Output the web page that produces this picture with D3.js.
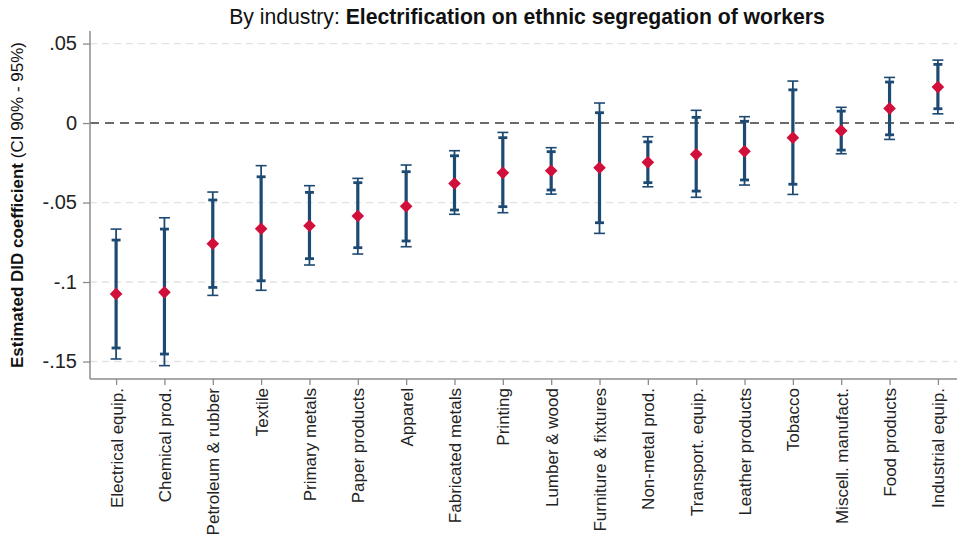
<!DOCTYPE html>
<html>
<head>
<meta charset="utf-8">
<script src="https://cdn.jsdelivr.net/npm/d3@7"></script>
<style>
  html, body { margin: 0; padding: 0; background: #fff; }
  svg { display: block; font-family: "Liberation Sans", Arial, sans-serif; }
</style>
</head>
<body>
<svg id="chart" width="957" height="538"></svg>
<script>
// Industries, ordered by estimated coefficient
const industries = [
  "Electrical equip.", "Chemical prod.", "Petroleum & rubber", "Textile",
  "Primary metals", "Paper products", "Apparel", "Fabricated metals",
  "Printing", "Lumber & wood", "Furniture & fixtures", "Non-metal prod.",
  "Transport. equip.", "Leather products", "Tobacco", "Miscell. manufact.",
  "Food products", "Industrial equip."
];
// Point estimates
const coef = [
  -0.1075, -0.1065, -0.0759, -0.0665, -0.0646, -0.0585, -0.0524, -0.0380,
  -0.0313, -0.0300, -0.0281, -0.0247, -0.0197, -0.0178, -0.0092, -0.0048,
  0.0092, 0.0226
];
// 90% confidence interval
const lo90 = [
  -0.1415, -0.1453, -0.1034, -0.0992, -0.0853, -0.0784, -0.0742, -0.0547,
  -0.0526, -0.0421, -0.0627, -0.0375, -0.0428, -0.0358, -0.0385, -0.0170,
  -0.0074, 0.0090
];
const hi90 = [
  -0.0736, -0.0667, -0.0484, -0.0338, -0.0436, -0.0375, -0.0306, -0.0206,
  -0.0092, -0.0180, 0.0065, -0.0118, 0.0036, 0.0011, 0.0209, 0.0075,
  0.0258, 0.0369
];
// 95% confidence interval
const lo95 = [
  -0.1484, -0.1526, -0.1084, -0.1052, -0.0893, -0.0824, -0.0778, -0.0574,
  -0.0564, -0.0447, -0.0694, -0.0401, -0.0467, -0.0390, -0.0449, -0.0193,
  -0.0103, 0.0058
];
const hi95 = [
  -0.0667, -0.0596, -0.0434, -0.0268, -0.0394, -0.0348, -0.0264, -0.0174,
  -0.0059, -0.0155, 0.0126, -0.0086, 0.0080, 0.0040, 0.0264, 0.0099,
  0.0287, 0.0396
];
const yTicks = [0.05, 0, -0.05, -0.1, -0.15];
const yTickLabels = [".05", "0", "-.05", "-.1", "-.15"];

const rows = industries.map((name, i) => ({
  name, b: coef[i], lo90: lo90[i], hi90: hi90[i], lo95: lo95[i], hi95: hi95[i]
}));

const plot = { left: 90, right: 957, top: 31, bottom: 379 };
const navy = "#1d4a72";
const red = "#d0103a";

const svg = d3.select("#chart");

const x = d3.scalePoint()
  .domain(industries)
  .range([plot.left, 964])
  .padding(0.54);

const y = d3.scaleLinear()
  .domain([-0.161, 0.0579])
  .range([plot.bottom, plot.top]);

// Horizontal grid
svg.append("g")
  .selectAll("line")
  .data(yTicks.filter(v => v !== 0))
  .join("line")
  .attr("x1", plot.left).attr("x2", plot.right)
  .attr("y1", d => y(d)).attr("y2", d => y(d))
  .attr("stroke", "#e2e2e2")
  .attr("stroke-width", 1.3)
  .attr("stroke-dasharray", "7,5");

// Reference line at zero
svg.append("line")
  .attr("x1", plot.left).attr("x2", plot.right)
  .attr("y1", y(0)).attr("y2", y(0))
  .attr("stroke", "#6a6a6a")
  .attr("stroke-width", 2)
  .attr("stroke-dasharray", "9,6");

// Y axis
const yAxis = svg.append("g")
  .attr("transform", `translate(${plot.left},0)`)
  .call(d3.axisLeft(y)
    .tickValues(yTicks)
    .tickFormat((d, i) => yTickLabels[i])
    .tickSize(7)
    .tickPadding(6));
yAxis.select(".domain").remove();
yAxis.append("line")
  .attr("x1", 0).attr("x2", 0)
  .attr("y1", plot.top).attr("y2", plot.bottom)
  .attr("stroke", "#8c8c8c").attr("stroke-width", 1.5);
yAxis.selectAll(".tick line").attr("stroke", "#8c8c8c").attr("stroke-width", 1.3);
yAxis.selectAll(".tick text")
  .attr("font-size", 20)
  .attr("fill", "#222")
  .attr("font-family", "'Liberation Sans', Arial, sans-serif");

// X axis
const xAxis = svg.append("g")
  .attr("transform", `translate(0,${plot.bottom})`)
  .call(d3.axisBottom(x).tickSize(6).tickSizeOuter(0));
xAxis.select(".domain").remove();
xAxis.append("line")
  .attr("x1", plot.left).attr("x2", plot.right)
  .attr("y1", 0).attr("y2", 0)
  .attr("stroke", "#8c8c8c").attr("stroke-width", 1.5);
xAxis.selectAll(".tick line").attr("stroke", "#8c8c8c").attr("stroke-width", 1.3);
xAxis.selectAll(".tick text")
  .attr("font-size", 17)
  .attr("fill", "#222")
  .attr("font-family", "'Liberation Sans', Arial, sans-serif")
  .attr("text-anchor", "end")
  .attr("transform", "rotate(-90)")
  .attr("x", -9)
  .attr("y", 0)
  .attr("dy", "0.35em");

// Confidence intervals
const ci = svg.append("g").selectAll("g").data(rows).join("g")
  .attr("transform", d => `translate(${x(d.name)},0)`);

// 95% interval: thin line with wide caps
ci.append("line")
  .attr("y1", d => y(d.lo95)).attr("y2", d => y(d.hi95))
  .attr("stroke", navy).attr("stroke-width", 1.8);
ci.selectAll(".cap95").data(d => [d.lo95, d.hi95]).join("line")
  .attr("class", "cap95")
  .attr("x1", -5.5).attr("x2", 5.5)
  .attr("y1", v => y(v)).attr("y2", v => y(v))
  .attr("stroke", navy).attr("stroke-width", 1.6);

// 90% interval: thick line with caps
ci.append("line")
  .attr("y1", d => y(d.lo90)).attr("y2", d => y(d.hi90))
  .attr("stroke", navy).attr("stroke-width", 3.2);
ci.selectAll(".cap90").data(d => [d.lo90, d.hi90]).join("line")
  .attr("class", "cap90")
  .attr("x1", -4.5).attr("x2", 4.5)
  .attr("y1", v => y(v)).attr("y2", v => y(v))
  .attr("stroke", navy).attr("stroke-width", 2.8);

// Point estimates as diamonds
svg.append("g").selectAll("path").data(rows).join("path")
  .attr("d", d3.symbol().type(d3.symbolSquare).size(80))
  .attr("transform", d => `translate(${x(d.name)},${y(d.b)}) rotate(45)`)
  .attr("fill", red);

// Title
const title = svg.append("text")
  .attr("x", 527).attr("y", 24)
  .attr("text-anchor", "middle")
  .attr("font-size", 21.2)
  .attr("fill", "#111");
title.append("tspan").text("By industry: ");
title.append("tspan").attr("font-weight", "bold").text("Electrification on ethnic segregation of workers");

// Y axis title
const ylab = svg.append("text")
  .attr("transform", `translate(23,${(372 + 38) / 2}) rotate(-90)`)
  .attr("text-anchor", "middle")
  .attr("font-size", 17)
  .attr("fill", "#111");
ylab.append("tspan").attr("font-weight", "bold").text("Estimated DID coefficient");
ylab.append("tspan").text(" (CI 90% - 95%)");
</script>
</body>
</html>
